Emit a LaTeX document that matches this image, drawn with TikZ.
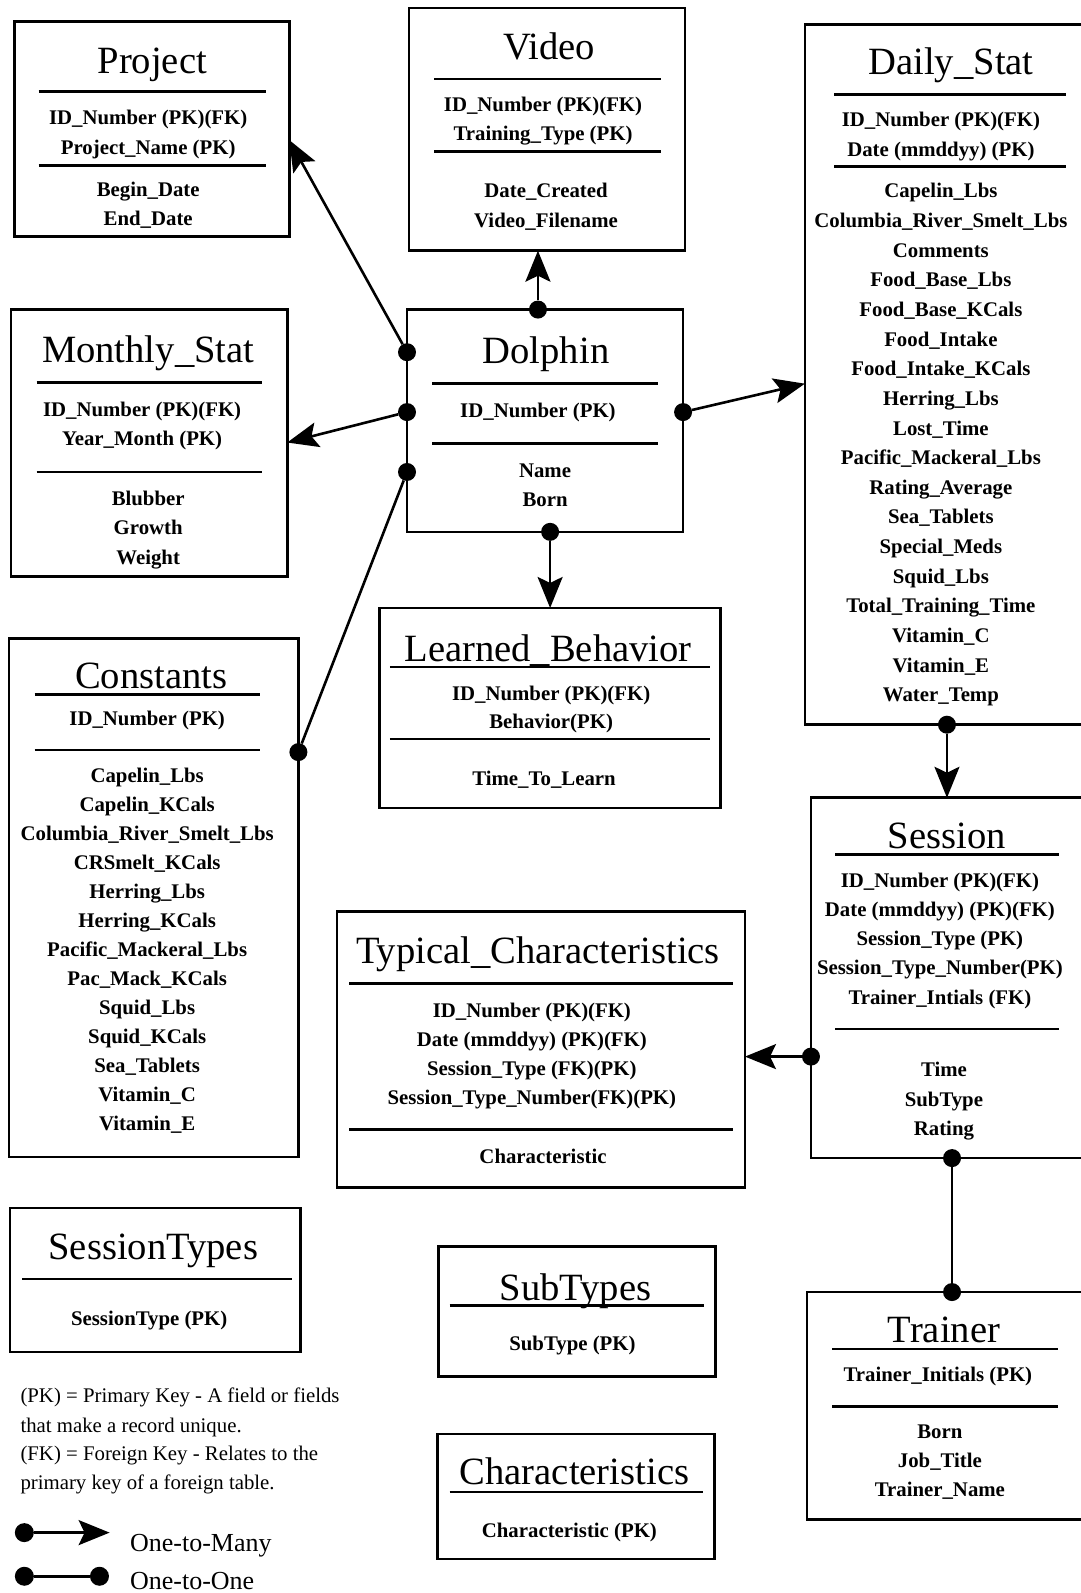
\documentclass[tikz,border=0pt]{standalone}
\usepackage{fontspec}
\setmainfont{Liberation Serif}
\usetikzlibrary{arrows.meta,fit}

\tikzset{
  tbl/.style={draw, line width=2.6pt, inner sep=0pt, outer sep=0pt},
  ttl/.style={anchor=base, inner sep=0pt, font=\fontsize{38.6}{40}\selectfont},
  fld/.style={anchor=base, inner sep=0pt, font=\bfseries\fontsize{20.8}{24}\selectfont},
  note/.style={anchor=base west, inner sep=0pt, font=\fontsize{20.8}{24}\selectfont},
  keytxt/.style={anchor=base west, inner sep=0pt, font=\fontsize{26}{28}\selectfont},
  hr/.style={line width=2.6pt},
  dot/.style={circle, fill, inner sep=0pt, minimum size=18pt},
  onemany/.style={line width=2.6pt, -{Stealth[length=31pt,width=25pt,inset=6pt]}},
  oneone/.style={line width=2.6pt},
}

% one text node per field line
\newcommand\fieldlist[5]{%
  \foreach \ftext [count=\i] in {#5}
    \node[fld] (#1-\i) at (#2,{#3+#4*(\i-1)}) {\ftext};%
}

\begin{document}
\begin{tikzpicture}[x=1.015pt,y=-1.015pt]
\useasboundingbox (0,0) rectangle (1065,1569.5);
\clip (0,0) rectangle (1065,1569.5);

%Shape: Table Project
\node[tbl, fit={(14,21) (285,233)}] (project) {};
\node[ttl] (project-t) at (150,72) {Project};
\draw[hr] (38,90) -- (262,90) (38,163) -- (262,163);
\fieldlist{project-k}{146}{123}{29}{ID\_Number (PK)(FK), Project\_Name (PK)}
\fieldlist{project-f}{146}{194}{28}{Begin\_Date, End\_Date}

%Shape: Table Video
\node[tbl, fit={(403,8) (675,247)}] (video) {};
\node[ttl] (video-t) at (541,59) {Video};
\draw[hr] (428,78) -- (651,78) (428,149) -- (651,149);
\fieldlist{video-k}{535}{110}{28.5}{ID\_Number (PK)(FK), Training\_Type (PK)}
\fieldlist{video-f}{538}{195}{29}{Date\_Created, Video\_Filename}

%Shape: Table Daily_Stat
\node[tbl, fit={(793,24) (1075,714)}] (daily) {};
\node[ttl] (daily-t) at (937,73) {Daily\_Stat};
\draw[hr] (822,93) -- (1050,93) (822,164) -- (1050,164);
\fieldlist{daily-k}{927}{125}{29}{ID\_Number (PK)(FK), Date (mmddyy) (PK)}
\fieldlist{daily-f}{927}{195}{29.2}{Capelin\_Lbs, Columbia\_River\_Smelt\_Lbs, Comments,
  Food\_Base\_Lbs, Food\_Base\_KCals, Food\_Intake, Food\_Intake\_KCals, Herring\_Lbs,
  Lost\_Time, Pacific\_Mackeral\_Lbs, Rating\_Average, Sea\_Tablets, Special\_Meds,
  Squid\_Lbs, Total\_Training\_Time, Vitamin\_C, Vitamin\_E, Water\_Temp}

%Shape: Table Monthly_Stat
\node[tbl, fit={(11,305) (283,568)}] (monthly) {};
\node[ttl] (monthly-t) at (146,357) {Monthly\_Stat};
\draw[hr] (36,377) -- (258,377) (36,465) -- (258,465);
\fieldlist{monthly-k}{140}{410}{28.5}{ID\_Number (PK)(FK), Year\_Month (PK)}
\fieldlist{monthly-f}{146}{498}{29}{Blubber, Growth, Weight}

%Shape: Table Dolphin
\node[tbl, fit={(401,305) (673,524)}] (dolphin) {};
\node[ttl] (dolphin-t) at (538,358) {Dolphin};
\draw[hr] (426,378) -- (648,378) (426,437) -- (648,437);
\fieldlist{dolphin-k}{530}{411}{29}{ID\_Number (PK)}
\fieldlist{dolphin-f}{537}{470}{29}{Name, Born}

%Shape: Table Learned_Behavior
\node[tbl, fit={(374,599) (710,796)}] (learned) {};
\node[ttl] (learned-t) at (540,652) {Learned\_Behavior};
\draw[hr] (384,657) -- (700,657) (384,728) -- (700,728);
\fieldlist{learned-k}{543}{690}{28}{ID\_Number (PK)(FK), Behavior(PK)}
\fieldlist{learned-f}{536}{774}{29}{Time\_To\_Learn}

%Shape: Table Constants
\node[tbl, fit={(9,629) (294,1140)}] (constants) {};
\node[ttl] (constants-t) at (149,678) {Constants};
\draw[hr] (34,684) -- (256,684) (34,739) -- (256,739);
\fieldlist{constants-k}{145}{715}{29}{ID\_Number (PK)}
\fieldlist{constants-f}{145}{771}{28.6}{Capelin\_Lbs, Capelin\_KCals, Columbia\_River\_Smelt\_Lbs,
  CRSmelt\_KCals, Herring\_Lbs, Herring\_KCals, Pacific\_Mackeral\_Lbs, Pac\_Mack\_KCals,
  Squid\_Lbs, Squid\_KCals, Sea\_Tablets, Vitamin\_C, Vitamin\_E}

%Shape: Table Typical_Characteristics
\node[tbl, fit={(332,898) (734,1170)}] (typical) {};
\node[ttl] (typical-t) at (530,949) {Typical\_Characteristics};
\draw[hr] (344,969) -- (722,969) (344,1113) -- (722,1113);
\fieldlist{typical-k}{524}{1002}{28.8}{ID\_Number (PK)(FK), Date (mmddyy) (PK)(FK),
  Session\_Type (FK)(PK), Session\_Type\_Number(FK)(PK)}
\fieldlist{typical-f}{535}{1146}{29}{Characteristic}

%Shape: Table Session
\node[tbl, fit={(799,786) (1075,1141)}] (session) {};
\node[ttl] (session-t) at (933,836) {Session};
\draw[hr] (823,842) -- (1043,842) (823,1014) -- (1043,1014);
\fieldlist{session-k}{926}{874}{28.8}{ID\_Number (PK)(FK), Date (mmddyy) (PK)(FK),
  Session\_Type (PK), Session\_Type\_Number(PK), Trainer\_Intials (FK)}
\fieldlist{session-f}{930}{1061}{29}{Time, SubType, Rating}

%Shape: Table Trainer
\node[tbl, fit={(795,1273) (1075,1497)}] (trainer) {};
\node[ttl] (trainer-t) at (930,1323) {Trainer};
\draw[hr] (820,1329) -- (1042,1329) (820,1386) -- (1042,1386);
\fieldlist{trainer-k}{924}{1361}{29}{Trainer\_Initials (PK)}
\fieldlist{trainer-f}{926}{1417}{28.8}{Born, Job\_Title, Trainer\_Name}

%Shape: Table SessionTypes
\node[tbl, fit={(10,1190) (296,1332)}] (sesstypes) {};
\node[ttl] (sesstypes-t) at (151,1241) {SessionTypes};
\draw[hr] (22,1260) -- (288,1260);
\fieldlist{sesstypes-k}{147}{1306}{29}{SessionType (PK)}

%Shape: Table SubTypes
\node[tbl, fit={(432,1228) (705,1356)}] (subtypes) {};
\node[ttl] (subtypes-t) at (567,1281) {SubTypes};
\draw[hr] (443,1286) -- (694,1286);
\fieldlist{subtypes-k}{564}{1331}{29}{SubType (PK)}

%Shape: Table Characteristics
\node[tbl, fit={(431,1413) (704,1536)}] (charac) {};
\node[ttl] (charac-t) at (566,1463) {Characteristics};
\draw[hr] (443,1470) -- (693,1470);
\fieldlist{charac-k}{561}{1515}{29}{Characteristic (PK)}

% Relationship dots
\node[dot] (dlp-w1) at (401,347) {};
\node[dot] (dlp-w2) at (401,406) {};
\node[dot] (dlp-w3) at (401,465) {};
\node[dot] (dlp-n) at (530,305) {};
\node[dot] (dlp-e) at (673,406) {};
\node[dot] (dlp-s) at (542,524) {};
\node[dot] (con-e) at (294,741) {};
\node[dot] (day-s) at (933,714) {};
\node[dot] (ses-w) at (799,1041) {};
\node[dot] (ses-s) at (938,1141) {};
\node[dot] (trn-n) at (trainer.north -| ses-s) {};

% Arrow ends
\coordinate (prj-in) at (project.east |- 0,138);
\coordinate (mon-in) at (monthly.east |- 0,436);
\coordinate (vid-in) at (video.south -| dlp-n);
\coordinate (day-in) at (daily.west |- 0,378);
\coordinate (lrn-in) at (learned.north -| dlp-s);
\coordinate (ses-in) at (session.north -| day-s);
\coordinate (typ-in) at (typical.east |- ses-w);

% Connectors
\draw[onemany] (dlp-w1) -- (prj-in);
\draw[onemany] (dlp-w2) -- (mon-in);
\draw[oneone] (dlp-w3) -- (con-e);
\draw[onemany] (dlp-n) -- (vid-in);
\draw[onemany] (dlp-e) -- (day-in);
\draw[onemany] (dlp-s) -- (lrn-in);
\draw[onemany] (day-s) -- (ses-in);
\draw[onemany] (ses-w) -- (typ-in);
\draw[oneone] (ses-s) -- (trn-n);

% Text Node: key notes
\node[note] (note-1) at (20,1382) {(PK) = Primary Key - A field or fields};
\node[note] (note-2) at (20,1411) {that make a record unique.};
\node[note] (note-3) at (20,1439) {(FK) = Foreign Key - Relates to the};
\node[note] (note-4) at (20,1468) {primary key of a foreign table.};

% Legend
\node[dot, minimum size=19pt] (key-a) at (24,1510) {};
\coordinate (key-b) at (108,1510);
\draw[onemany] (key-a) -- (key-b);
\node[keytxt] (key-at) at (128,1529) {One-to-Many};
\node[dot, minimum size=19pt] (key-c) at (24,1553) {};
\node[dot, minimum size=19pt] (key-d) at (98,1553) {};
\draw[oneone] (key-c) -- (key-d);
\node[keytxt] (key-ct) at (128,1566) {One-to-One};

\end{tikzpicture}
\end{document}
